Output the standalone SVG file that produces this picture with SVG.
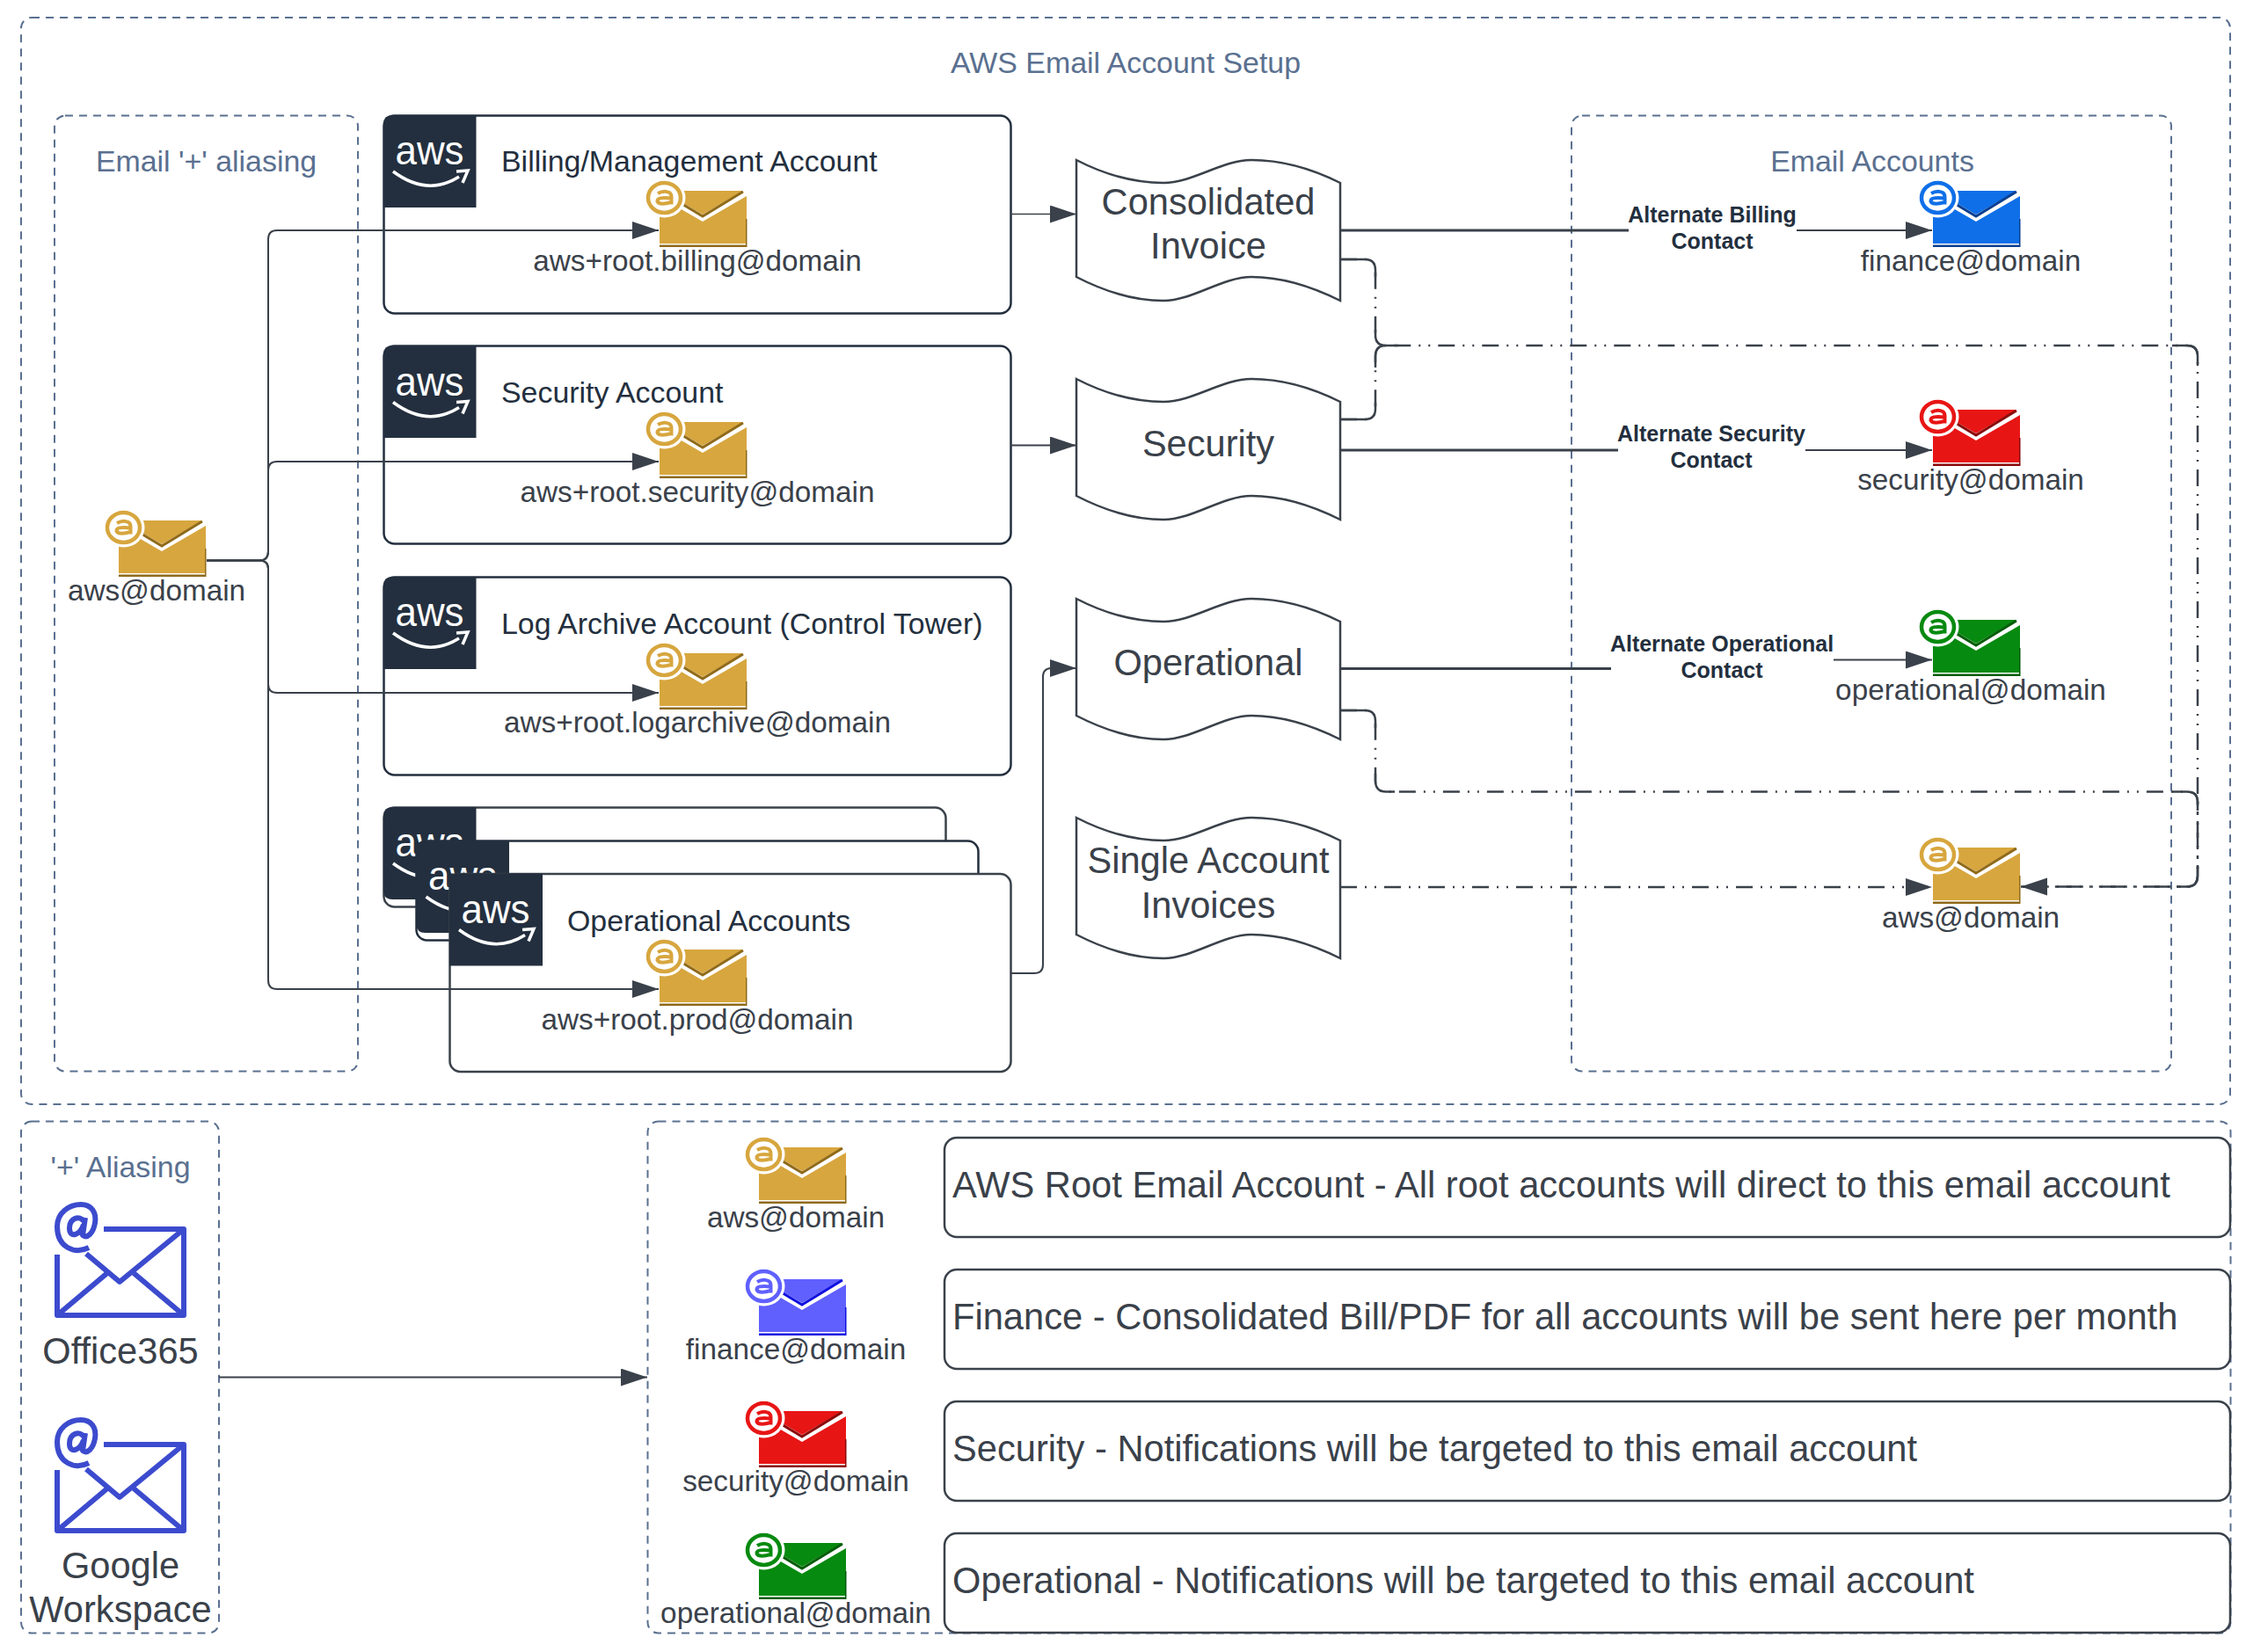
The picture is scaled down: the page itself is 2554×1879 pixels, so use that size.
<svg xmlns="http://www.w3.org/2000/svg" width="2554" height="1879" viewBox="0 0 2554 1879">
<style>
text{font-family:"Liberation Sans",Arial,sans-serif;font-size:33.3px;fill:#3a414a}
.m{text-anchor:middle}
.ct{fill:#5a7090;font-size:33.9px}
.ti{fill:#232f3e;font-size:33.9px}
.big{font-size:41.6px}
.desc{font-size:41.65px}
.lb{font-size:25px;font-weight:bold;fill:#232f3e;text-anchor:middle}
.awst{font-size:47px;fill:#fff;text-anchor:middle}
.cont{fill:none;stroke:#5a7090;stroke-width:2;stroke-dasharray:9 7}
.card{fill:#fff;stroke:#232f3e;stroke-width:2.5}
.logo{fill:#232f3e}
.box{fill:#fff;stroke:#3a414a;stroke-width:2.5}
.doc{fill:#fff;stroke:#3a414a;stroke-width:2.5}
.c{fill:none;stroke:#3a414a;stroke-width:2}
.t{fill:none;stroke:#3a414a;stroke-width:3}
.d{fill:none;stroke:#3a414a;stroke-width:2.5;stroke-dasharray:19 9 2 9 2 9}
.s{fill:none;stroke:#3a414a;stroke-width:2.5}
.gold{--c:#d7a63e;--k:#8f6a1a}
.blue{--c:#0f6fe8;--k:#0a3f90}
.red{--c:#e81515;--k:#8a0a0a}
.green{--c:#078a10;--k:#045c08}
.peri{--c:#6060ff;--k:#1010e0}
</style>
<defs>
<marker id="ah" markerUnits="userSpaceOnUse" markerWidth="31" markerHeight="22" refX="30" refY="10" orient="auto"><path d="M0 0L30 10L0 20Z" fill="#3a414a"/></marker>
<symbol id="env" width="125" height="90" viewBox="-25 -15 125 90" overflow="visible">
<polygon points="20,0 95,0 49,27 20,10" fill="var(--c)"/>
<polyline points="24,14 49,29 95,1" fill="none" stroke="var(--k)" stroke-width="3"/>
<polygon points="0,20 23,20 49,35 99,6 99,60 0,60" fill="var(--c)"/>
<rect x="0" y="61.500" width="99" height="2.500" fill="var(--k)"/>
<rect x="98" y="32" width="1.500" height="32" fill="var(--k)"/>
<ellipse cx="5.500" cy="8" rx="24" ry="22.500" fill="#fff"/>
<ellipse cx="5.500" cy="8" rx="18.500" ry="17" fill="none" stroke="var(--c)" stroke-width="4.500"/>
<path d="M-2 3Q5 -1 11 2Q13.500 3.500 13.500 7V15.500M13.500 8.500Q-3 6.500 -2.500 12Q0 17 13.500 13" fill="none" stroke="var(--c)" stroke-width="4"/>
</symbol>
<symbol id="mail" width="170" height="140" viewBox="60 1365 170 140" overflow="visible">
<g fill="none" stroke="#3c4bce" stroke-width="6" stroke-linejoin="round">
<path d="M118 1398H209V1496H65V1427"/>
<path d="M98 1426L136 1458L209 1398"/>
<path d="M65 1496L122 1448M209 1496L152 1448"/>
<path transform="translate(87,1395)" d="M14 24C-2 32-22 24-22 0C-22-16-8-25 5-25C17-25 23-16 21-4C19 8 12 14 7 10L10-10M8-6C4-13-8-10-8 2C-8 14 4 10 8-2"/>
</g>
</symbol>
<path id="smile" d="M11 64Q50 93 86 70M83 64L96 63L90 77" fill="none" stroke="#fff" stroke-width="3.500"/>
</defs>
<rect width="2554" height="1879" fill="#fff"/>

<g id="container-setup"><rect class="cont" x="24" y="20" width="2512" height="1236" rx="12"/><text class="ct m" x="1280" y="83">AWS Email Account Setup</text></g>
<g id="container-aliasing"><rect class="cont" x="62" y="131.500" width="345" height="1087" rx="12"/><text class="ct m" x="234.500" y="195">Email '+' aliasing</text></g>
<g id="container-accounts"><rect class="cont" x="1787" y="131.500" width="682" height="1087" rx="12"/><text class="ct m" x="2129" y="195">Email Accounts</text></g>
<g id="container-plus"><rect class="cont" x="24" y="1275.500" width="225" height="582" rx="12"/><text class="ct m" x="137" y="1339">'+' Aliasing</text></g>
<g id="container-legend"><rect class="cont" x="736.500" y="1275.500" width="1800" height="582" rx="12"/></g>

<g id="card-billing"><rect class="card" x="436.500" y="131.500" width="713" height="225" rx="12"/><path class="logo" d="M446 131H541.500V236H436V141Q436 131 446 131Z"/><text class="awst" x="488.500" y="187" textLength="78" lengthAdjust="spacingAndGlyphs">aws</text><use href="#smile" x="436" y="131"/><text class="ti" x="570" y="195">Billing/Management Account</text></g>
<g id="card-security"><rect class="card" x="436.500" y="393.500" width="713" height="225" rx="12"/><path class="logo" d="M446 393H541.500V498H436V403Q436 393 446 393Z"/><text class="awst" x="488.500" y="449.500" textLength="78" lengthAdjust="spacingAndGlyphs">aws</text><use href="#smile" x="436" y="393.500"/><text class="ti" x="570" y="458">Security Account</text></g>
<g id="card-logarchive"><rect class="card" x="436.500" y="656.500" width="713" height="225" rx="12"/><path class="logo" d="M446 656H541.500V761H436V666Q436 656 446 656Z"/><text class="awst" x="488.500" y="712" textLength="78" lengthAdjust="spacingAndGlyphs">aws</text><use href="#smile" x="436" y="656"/><text class="ti" x="570" y="721">Log Archive Account (Control Tower)</text></g>
<g id="card-stack-1"><rect class="card" x="436.500" y="918.500" width="639" height="113" rx="12" style="stroke:#3a414a"/><path class="logo" d="M446 918H541.500V1023H446Q436 1023 436 1013V928Q436 918 446 918Z"/><text class="awst" x="488.500" y="974" textLength="78" lengthAdjust="spacingAndGlyphs">aws</text><use href="#smile" x="436" y="918"/></g>
<g id="card-stack-2"><rect class="card" x="473.500" y="956.500" width="639" height="113" rx="12"/><path class="logo" d="M483.500 956H579V1061H483.500Q473.500 1061 473.500 1051V966Q473.500 956 483.500 956Z"/><text class="awst" x="526" y="1012" textLength="78" lengthAdjust="spacingAndGlyphs">aws</text><use href="#smile" x="473.500" y="956"/></g>
<g id="card-operational"><rect class="card" x="511.500" y="994" width="638" height="225" rx="12" style="stroke:#3a414a"/><rect class="logo" x="511" y="993.500" width="106" height="105"/><text class="awst" x="563.500" y="1049.500" textLength="78" lengthAdjust="spacingAndGlyphs">aws</text><use href="#smile" x="511" y="993.500"/><text class="ti" x="645" y="1059">Operational Accounts</text></g>

<g id="doc-consolidated"><path class="doc" d="M1224 182C1257 199 1290 208 1323 208C1356 208 1390 182 1423 182C1457 182 1490 191 1524 208V342C1490 325 1457 315 1423 315C1390 315 1356 342 1323 342C1290 342 1257 332 1224 315Z"/><text class="big m" x="1374" y="244">Consolidated</text><text class="big m" x="1374" y="294">Invoice</text></g>
<g id="doc-security"><path class="doc" transform="translate(0,249)" d="M1224 182C1257 199 1290 208 1323 208C1356 208 1390 182 1423 182C1457 182 1490 191 1524 208V342C1490 325 1457 315 1423 315C1390 315 1356 342 1323 342C1290 342 1257 332 1224 315Z"/><text class="big m" x="1374" y="519">Security</text></g>
<g id="doc-operational"><path class="doc" transform="translate(0,499)" d="M1224 182C1257 199 1290 208 1323 208C1356 208 1390 182 1423 182C1457 182 1490 191 1524 208V342C1490 325 1457 315 1423 315C1390 315 1356 342 1323 342C1290 342 1257 332 1224 315Z"/><text class="big m" x="1374" y="768">Operational</text></g>
<g id="doc-single"><path class="doc" transform="translate(0,748)" d="M1224 182C1257 199 1290 208 1323 208C1356 208 1390 182 1423 182C1457 182 1490 191 1524 208V342C1490 325 1457 315 1423 315C1390 315 1356 342 1323 342C1290 342 1257 332 1224 315Z"/><text class="big m" x="1374" y="993">Single Account</text><text class="big m" x="1374" y="1044">Invoices</text></g>

<g id="connectors">
<path class="c" marker-end="url(#ah)" d="M235 637.500H295Q305 637.500 305 627V272Q305 262 315 262H749"/>
<path class="c" marker-end="url(#ah)" d="M235 637.500H295Q305 637.500 305 627V535Q305 525 315 525H749"/>
<path class="c" marker-end="url(#ah)" d="M235 637.500H295Q305 637.500 305 647V778Q305 788 315 788H749"/>
<path class="c" marker-end="url(#ah)" d="M235 637.500H295Q305 637.500 305 647V1115Q305 1125 315 1125H749"/>
<path class="c" style="stroke-width:1.500" marker-end="url(#ah)" d="M1149 243.500H1224"/>
<path class="c" marker-end="url(#ah)" d="M1149 506.500H1224"/>
<path class="c" marker-end="url(#ah)" d="M1149 1107H1176Q1186 1107 1186 1097V770Q1186 760 1196 760H1224"/>
<path class="t" d="M1524 262H1852"/><path class="c" marker-end="url(#ah)" d="M2043 262H2197"/>
<path class="t" d="M1524 512H1840"/><path class="c" marker-end="url(#ah)" d="M2053 512H2197"/>
<path class="t" d="M1524 760.500H1832"/><path class="c" marker-end="url(#ah)" d="M2085 750.500H2197"/>
<path class="d" d="M1524 295H1552Q1564 295 1564 307V381Q1564 393 1576 393H2487Q2499 393 2499 405V996Q2499 1008.500 2487 1008.500H2298" marker-end="url(#ah)"/>
<path class="d" d="M1524 477H1552Q1564 477 1564 465V405Q1564 393 1576 393"/>
<path class="d" d="M1524 808H1552Q1564 808 1564 820V888Q1564 900.500 1576 900.500H2487Q2499 900.500 2499 912V996Q2499 1008.500 2487 1008.500H2298"/>
<path class="d" marker-end="url(#ah)" d="M1524 1009H2197"/>
<path class="s" d="M1524 295H1552Q1564 295 1564 307V315M1524 477H1552Q1564 477 1564 465V458M1564 375V381Q1564 393 1576 393H1590M1564 418V405Q1564 393 1576 393M1524 808H1552Q1564 808 1564 820V828M1564 880V888Q1564 900.500 1576 900.500H1586M2470 393H2487Q2499 393 2499 405V416M2470 900.500H2487Q2499 900.500 2499 912V922M2499 985V996Q2499 1008.500 2487 1008.500H2475"/>
<path class="c" marker-end="url(#ah)" d="M249 1566.500H736"/>
<text class="lb" x="1947" y="253">Alternate Billing</text><text class="lb" x="1947" y="283">Contact</text>
<text class="lb" x="1946" y="502">Alternate Security</text><text class="lb" x="1946" y="532">Contact</text>
<text class="lb" x="1958" y="741">Alternate Operational</text><text class="lb" x="1958" y="771">Contact</text>
</g>

<g id="mail-root" class="gold"><use href="#env" x="135" y="592" width="125" height="90" transform="translate(-25,-15)"/><text class="m" x="178" y="683">aws@domain</text></g>
<g id="mail-billing" class="gold"><use href="#env" x="750" y="217" width="125" height="90" transform="translate(-25,-15)"/><text class="m" x="793" y="308">aws+root.billing@domain</text></g>
<g id="mail-security" class="gold"><use href="#env" x="750" y="480" width="125" height="90" transform="translate(-25,-15)"/><text class="m" x="793" y="571">aws+root.security@domain</text></g>
<g id="mail-logarchive" class="gold"><use href="#env" x="750" y="743" width="125" height="90" transform="translate(-25,-15)"/><text class="m" x="793" y="833">aws+root.logarchive@domain</text></g>
<g id="mail-prod" class="gold"><use href="#env" x="750" y="1080" width="125" height="90" transform="translate(-25,-15)"/><text class="m" x="793" y="1171">aws+root.prod@domain</text></g>

<g id="acct-finance" class="blue"><use href="#env" x="2198" y="217" width="125" height="90" transform="translate(-25,-15)"/><text class="m" x="2241" y="308">finance@domain</text></g>
<g id="acct-security" class="red"><use href="#env" x="2198" y="466" width="125" height="90" transform="translate(-25,-15)"/><text class="m" x="2241" y="557">security@domain</text></g>
<g id="acct-operational" class="green"><use href="#env" x="2198" y="705" width="125" height="90" transform="translate(-25,-15)"/><text class="m" x="2241" y="796">operational@domain</text></g>
<g id="acct-aws" class="gold"><use href="#env" x="2198" y="964" width="125" height="90" transform="translate(-25,-15)"/><text class="m" x="2241" y="1055">aws@domain</text></g>

<g id="office365"><use href="#mail" x="60" y="1365" width="170" height="140"/><text class="big m" x="137" y="1551">Office365</text></g>
<g id="google"><use href="#mail" x="60" y="1610" width="170" height="140"/><text class="big m" x="137" y="1795">Google</text><text class="big m" x="137" y="1845">Workspace</text></g>

<g id="legend-aws" class="gold"><use href="#env" x="863" y="1305" width="125" height="90" transform="translate(-25,-15)"/><text class="m" x="905" y="1396">aws@domain</text></g>
<g id="legend-finance" class="peri"><use href="#env" x="863" y="1455" width="125" height="90" transform="translate(-25,-15)"/><text class="m" x="905" y="1546">finance@domain</text></g>
<g id="legend-security" class="red"><use href="#env" x="863" y="1605" width="125" height="90" transform="translate(-25,-15)"/><text class="m" x="905" y="1696">security@domain</text></g>
<g id="legend-operational" class="green"><use href="#env" x="863" y="1755" width="125" height="90" transform="translate(-25,-15)"/><text class="m" x="905" y="1846">operational@domain</text></g>

<g id="desc-aws"><rect class="box" x="1074" y="1294" width="1462" height="113" rx="14"/><text class="desc" x="1083" y="1362">AWS Root Email Account - All root accounts will direct to this email account</text></g>
<g id="desc-finance"><rect class="box" x="1074" y="1444" width="1462" height="113" rx="14"/><text class="desc" x="1083" y="1512">Finance - Consolidated Bill/PDF for all accounts will be sent here per month</text></g>
<g id="desc-security"><rect class="box" x="1074" y="1594" width="1462" height="113" rx="14"/><text class="desc" x="1083" y="1662">Security - Notifications will be targeted to this email account</text></g>
<g id="desc-operational"><rect class="box" x="1074" y="1744" width="1462" height="113" rx="14"/><text class="desc" x="1083" y="1812">Operational - Notifications will be targeted to this email account</text></g>
</svg>
